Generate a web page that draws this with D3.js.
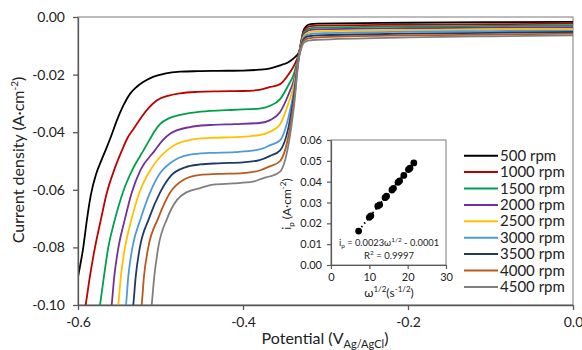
<!DOCTYPE html>
<html><head><meta charset="utf-8">
<script src="https://cdn.jsdelivr.net/npm/d3@7"></script>
<style>body{margin:0;background:#fff}text{font-family:Lato,"Open Sans",sans-serif}</style>
</head><body><svg id="c" width="582" height="350"></svg>
<script>
// ---- data: [potential V vs Ag/AgCl, current density A/cm2] ----
const rpm500 = [[-0.606,-0.100],[-0.600,-0.0903],[-0.5936,-0.080],[-0.589,-0.070],[-0.5846,-0.0620],[-0.578,-0.0545],[-0.5713,-0.0495],[-0.5665,-0.0462],[-0.560,-0.0415],[-0.553,-0.0360],[-0.545,-0.0307],[-0.537,-0.0267],[-0.529,-0.0243],[-0.521,-0.0226],[-0.509,-0.0208],[-0.495,-0.0197],[-0.476,-0.0190],[-0.455,-0.0188],[-0.43,-0.0187],[-0.40,-0.0186],[-0.38,-0.0183],[-0.367,-0.0178],[-0.355,-0.0168],[-0.345,-0.0157],[-0.338,-0.0142],[-0.332,-0.0122],[-0.3295,-0.0085],[-0.327,-0.0050],[-0.323,-0.0031],[-0.318,-0.0025],[-0.31,-0.0023],[-0.2,-0.0020],[-0.1,-0.0018],[0,-0.0017]];
const rpm1000 = [[-0.5935,-0.105],[-0.5907,-0.100],[-0.5855,-0.090],[-0.5794,-0.080],[-0.572,-0.070],[-0.5652,-0.0612],[-0.556,-0.0530],[-0.547,-0.0465],[-0.540,-0.042],[-0.533,-0.0390],[-0.523,-0.0347],[-0.514,-0.0315],[-0.5047,-0.0290],[-0.49,-0.0273],[-0.476,-0.0265],[-0.455,-0.0260],[-0.43,-0.0258],[-0.40,-0.0257],[-0.38,-0.0253],[-0.367,-0.0243],[-0.355,-0.0233],[-0.345,-0.0200],[-0.338,-0.0168],[-0.332,-0.0124],[-0.3295,-0.0088],[-0.327,-0.0055],[-0.323,-0.0038],[-0.318,-0.0032],[-0.31,-0.0030],[-0.2,-0.0027],[-0.1,-0.0025],[0,-0.0023]];
const rpm1500 = [[-0.576,-0.106],[-0.5733,-0.100],[-0.5685,-0.090],[-0.5633,-0.080],[-0.555,-0.070],[-0.5451,-0.0605],[-0.534,-0.0530],[-0.5208,-0.0464],[-0.513,-0.0425],[-0.508,-0.0400],[-0.5006,-0.0372],[-0.49,-0.0352],[-0.476,-0.0340],[-0.46,-0.0332],[-0.44,-0.0326],[-0.41,-0.0322],[-0.38,-0.0318],[-0.367,-0.0308],[-0.355,-0.0285],[-0.345,-0.0237],[-0.338,-0.0195],[-0.332,-0.0126],[-0.3295,-0.0091],[-0.327,-0.0060],[-0.323,-0.0045],[-0.318,-0.0039],[-0.31,-0.0037],[-0.2,-0.0033],[-0.1,-0.0031],[0,-0.0029]];
const rpm2000 = [[-0.562,-0.106],[-0.5592,-0.100],[-0.556,-0.090],[-0.551,-0.080],[-0.543,-0.070],[-0.5349,-0.0610],[-0.524,-0.0530],[-0.507,-0.0464],[-0.498,-0.0430],[-0.4885,-0.0405],[-0.4642,-0.0382],[-0.44,-0.0375],[-0.41,-0.0372],[-0.38,-0.0368],[-0.367,-0.0358],[-0.355,-0.0330],[-0.345,-0.0270],[-0.338,-0.0215],[-0.332,-0.0128],[-0.3295,-0.0094],[-0.327,-0.0065],[-0.323,-0.0051],[-0.318,-0.0045],[-0.31,-0.0043],[-0.2,-0.0039],[-0.1,-0.0037],[0,-0.0035]];
const rpm2500 = [[-0.554,-0.106],[-0.5512,-0.100],[-0.548,-0.090],[-0.543,-0.080],[-0.535,-0.070],[-0.5257,-0.0610],[-0.512,-0.0530],[-0.4925,-0.0464],[-0.48,-0.0440],[-0.4642,-0.0427],[-0.44,-0.0420],[-0.41,-0.0417],[-0.38,-0.0410],[-0.367,-0.0398],[-0.355,-0.0372],[-0.345,-0.0300],[-0.338,-0.0232],[-0.332,-0.0130],[-0.3295,-0.0097],[-0.327,-0.0070],[-0.323,-0.0057],[-0.318,-0.0052],[-0.31,-0.0050],[-0.2,-0.0045],[-0.1,-0.0043],[0,-0.0041]];
const rpm3000 = [[-0.5445,-0.106],[-0.5418,-0.100],[-0.539,-0.090],[-0.534,-0.080],[-0.524,-0.070],[-0.5127,-0.0610],[-0.500,-0.0540],[-0.4885,-0.0508],[-0.4642,-0.0478],[-0.44,-0.0472],[-0.41,-0.0469],[-0.38,-0.0460],[-0.367,-0.0445],[-0.355,-0.0428],[-0.345,-0.0350],[-0.338,-0.0252],[-0.332,-0.0132],[-0.3295,-0.0100],[-0.327,-0.0075],[-0.323,-0.0063],[-0.318,-0.0059],[-0.31,-0.0057],[-0.2,-0.0051],[-0.1,-0.0049],[0,-0.0047]];
const rpm3500 = [[-0.5355,-0.106],[-0.533,-0.100],[-0.530,-0.090],[-0.525,-0.080],[-0.514,-0.070],[-0.5006,-0.0610],[-0.487,-0.0550],[-0.47,-0.0522],[-0.452,-0.0512],[-0.43,-0.0508],[-0.40,-0.0505],[-0.38,-0.0497],[-0.367,-0.0482],[-0.355,-0.0463],[-0.345,-0.0385],[-0.338,-0.0268],[-0.332,-0.0134],[-0.3295,-0.0103],[-0.327,-0.0080],[-0.323,-0.0069],[-0.318,-0.0066],[-0.31,-0.0064],[-0.2,-0.0058],[-0.1,-0.0055],[0,-0.0052]];
const rpm4000 = [[-0.5255,-0.106],[-0.5228,-0.100],[-0.520,-0.090],[-0.5148,-0.080],[-0.503,-0.070],[-0.4885,-0.0610],[-0.472,-0.0565],[-0.452,-0.0548],[-0.43,-0.0545],[-0.40,-0.0542],[-0.38,-0.0533],[-0.367,-0.0518],[-0.355,-0.0500],[-0.345,-0.0415],[-0.338,-0.0287],[-0.332,-0.0136],[-0.3295,-0.0106],[-0.327,-0.0086],[-0.323,-0.0076],[-0.318,-0.0073],[-0.31,-0.0071],[-0.2,-0.0064],[-0.1,-0.0061],[0,-0.0058]];
const rpm4500 = [[-0.513,-0.106],[-0.5107,-0.100],[-0.5075,-0.090],[-0.5027,-0.080],[-0.492,-0.070],[-0.480,-0.0635],[-0.468,-0.0608],[-0.452,-0.0594],[-0.436,-0.0582],[-0.412,-0.0578],[-0.388,-0.0572],[-0.376,-0.0560],[-0.367,-0.0553],[-0.355,-0.0537],[-0.345,-0.0445],[-0.338,-0.0305],[-0.332,-0.0138],[-0.3295,-0.0110],[-0.327,-0.0092],[-0.323,-0.0084],[-0.318,-0.0081],[-0.31,-0.0079],[-0.2,-0.0071],[-0.1,-0.0067],[0,-0.0064]];

const seriesNames = ["500 rpm","1000 rpm","1500 rpm","2000 rpm","2500 rpm","3000 rpm","3500 rpm","4000 rpm","4500 rpm"];
const seriesData = [rpm500,rpm1000,rpm1500,rpm2000,rpm2500,rpm3000,rpm3500,rpm4000,rpm4500];
const seriesColors = ["#000000","#c00000","#00a04a","#7030a0","#ffc000","#4f9ad8","#1f3a6a","#b85a1e","#7f7f7f"];

const xTicks = [-0.6,-0.4,-0.2,0];
const yTicks = [-0.10,-0.08,-0.06,-0.04,-0.02,0];

// inset: sqrt(omega) vs limiting current
const insetOmega = [7.2,10.0,10.4,12.2,12.7,14.1,14.5,15.9,16.3,17.5,17.9,19.0,20.2,20.6,21.6];
const insetIp    = [0.0163,0.0229,0.0236,0.0283,0.0289,0.0323,0.0330,0.0360,0.0368,0.0397,0.0404,0.0430,0.0458,0.0465,0.0490];
const trendOmega = [7.2,21.6];
const trendIp = [0.0165,0.0496];
const insetXTicks = [0,10,20,30];
const insetYTicks = [0,0.01,0.02,0.03,0.04,0.05,0.06];

// ---- drawing ----
const svg = d3.select("#c");
const L=78,R=573,T=17,B=305;
const x = d3.scaleLinear().domain([-0.6,0]).range([L,R]);
const y = d3.scaleLinear().domain([-0.1,0]).range([B,T]);
const axisCol = "#595959";

svg.append("defs").append("clipPath").attr("id","clip")
  .append("rect").attr("x",L).attr("y",T).attr("width",R-L).attr("height",B-T);

svg.append("rect").attr("x",L).attr("y",T).attr("width",R-L).attr("height",B-T)
  .attr("fill","none").attr("stroke","#7a7a7a").attr("stroke-width",1);

const line = d3.line().x(d=>x(d[0])).y(d=>y(d[1])).curve(d3.curveMonotoneX);
const g = svg.append("g").attr("clip-path","url(#clip)");
seriesData.forEach((s,i)=>{
  g.append("path").datum(s).attr("d",line).attr("fill","none")
   .attr("stroke",seriesColors[i]).attr("stroke-width",1.8).attr("stroke-linejoin","round");
});

const yAx = svg.append("g").attr("transform",`translate(${L},0)`)
  .call(d3.axisLeft(y).tickValues(yTicks).tickFormat(d=>d.toFixed(2)).tickSize(5).tickPadding(8).tickSizeOuter(0));
const xAx = svg.append("g").attr("transform",`translate(0,${B})`)
  .call(d3.axisBottom(x).tickValues(xTicks).tickFormat(d=>d.toFixed(1)).tickSize(5).tickPadding(7).tickSizeOuter(0));
[yAx,xAx].forEach(a=>{
  a.select(".domain").attr("stroke",axisCol).attr("stroke-width",1.3);
  a.selectAll(".tick line").attr("stroke",axisCol).attr("stroke-width",1.3);
  a.selectAll(".tick text").attr("fill","#222").style("font-size","14px").style("font-family","Lato");
});

// axis titles
const yt = svg.append("text").attr("transform","translate(24,160) rotate(-90)")
  .attr("text-anchor","middle").style("font-size","16px").attr("fill","#222");
yt.append("tspan").text("Current density (A·cm");
yt.append("tspan").text("-2").style("font-size","10px").attr("dy",-6);
yt.append("tspan").text(")").attr("dy",6);

const xt = svg.append("text").attr("x",325).attr("y",344).attr("text-anchor","middle")
  .style("font-size","16px").attr("fill","#222");
xt.append("tspan").text("Potential (V");
xt.append("tspan").text("Ag/AgCl").style("font-size","11px").attr("dy",4);
xt.append("tspan").text(")").attr("dy",-4);

// legend
seriesNames.forEach((n,i)=>{
  const yy = 155.7 + i*16.4;
  svg.append("line").attr("x1",464).attr("x2",498).attr("y1",yy).attr("y2",yy)
    .attr("stroke",seriesColors[i]).attr("stroke-width",2);
  svg.append("text").attr("x",500).attr("y",yy+5).text(n)
    .style("font-size","15px").attr("fill","#222");
});

// inset
const IL=331,IR=446,IT=140,IB=265;
const ix = d3.scaleLinear().domain([0,30]).range([IL,IR]);
const iy = d3.scaleLinear().domain([0,0.06]).range([IB,IT]);
svg.append("rect").attr("x",IL).attr("y",IT).attr("width",IR-IL).attr("height",IB-IT)
  .attr("fill","#fff").attr("stroke","#7a7a7a").attr("stroke-width",1);
const iyAx = svg.append("g").attr("transform",`translate(${IL},0)`)
  .call(d3.axisLeft(iy).tickValues(insetYTicks).tickFormat(d=>d.toFixed(2)).tickSize(4).tickPadding(5).tickSizeOuter(0));
const ixAx = svg.append("g").attr("transform",`translate(0,${IB})`)
  .call(d3.axisBottom(ix).tickValues(insetXTicks).tickFormat(d=>String(d)).tickSize(4).tickPadding(4).tickSizeOuter(0));
[iyAx,ixAx].forEach(a=>{
  a.select(".domain").attr("stroke",axisCol).attr("stroke-width",1.2);
  a.selectAll(".tick line").attr("stroke",axisCol).attr("stroke-width",1.2);
  a.selectAll(".tick text").attr("fill","#222").style("font-size","11px").style("font-family","Lato");
});
svg.append("line").attr("x1",ix(trendOmega[0])).attr("y1",iy(trendIp[0]))
  .attr("x2",ix(trendOmega[1])).attr("y2",iy(trendIp[1]))
  .attr("stroke","#000").attr("stroke-width",1.8).attr("stroke-dasharray","1.5,3");
svg.append("g").selectAll("circle").data(insetOmega.map((w,i)=>[w,insetIp[i]])).join("circle")
  .attr("cx",d=>ix(d[0])).attr("cy",d=>iy(d[1])).attr("r",3.4).attr("fill","#000");

const eq = svg.append("text").attr("x",389).attr("y",246).attr("text-anchor","middle")
  .style("font-size","9.3px").attr("fill","#222");
eq.append("tspan").text("i");
eq.append("tspan").text("p").style("font-size","6.5px").attr("dy",2);
eq.append("tspan").text(" = 0.0023ω").attr("dy",-2);
eq.append("tspan").text("1/2").style("font-size","6.5px").attr("dy",-4);
eq.append("tspan").text(" - 0.0001").attr("dy",4);
const r2 = svg.append("text").attr("x",389).attr("y",259).attr("text-anchor","middle")
  .style("font-size","9.5px").attr("fill","#222");
r2.append("tspan").text("R");
r2.append("tspan").text("2").style("font-size","6.5px").attr("dy",-4);
r2.append("tspan").text(" = 0.9997").attr("dy",4);

const iyt = svg.append("text").attr("transform","translate(291,204) rotate(-90)")
  .attr("text-anchor","middle").style("font-size","12px").attr("fill","#222");
iyt.append("tspan").text("i");
iyt.append("tspan").text("p").style("font-size","8px").attr("dy",3);
iyt.append("tspan").text(" (A·cm").attr("dy",-3);
iyt.append("tspan").text("-2").style("font-size","8px").attr("dy",-5);
iyt.append("tspan").text(")").attr("dy",5);

const ixt = svg.append("text").attr("x",389).attr("y",297).attr("text-anchor","middle")
  .style("font-size","12px").attr("fill","#222");
ixt.append("tspan").text("ω");
ixt.append("tspan").text("1/2").style("font-size","8px").attr("dy",-5);
ixt.append("tspan").text("(s").attr("dy",5);
ixt.append("tspan").text("-1/2").style("font-size","8px").attr("dy",-5);
ixt.append("tspan").text(")").attr("dy",5);
</script></body></html>
